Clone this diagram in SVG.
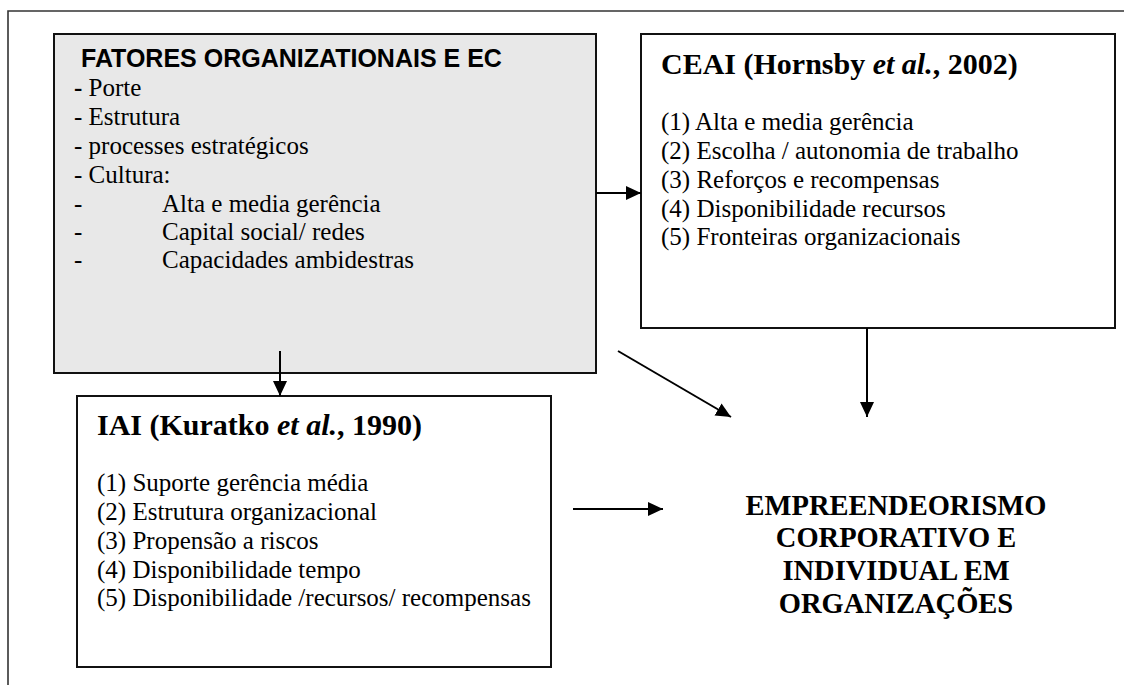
<svg xmlns="http://www.w3.org/2000/svg" width="1124" height="685" viewBox="0 0 1124 685">
  <style>
    .box { fill: #ffffff; stroke: #111111; stroke-width: 2; }
    .shade { fill: #e8e8e8; }
    .frame { fill: none; stroke: #333333; stroke-width: 1.6; }
    .body { font-family: "Liberation Serif", "Times New Roman", serif; font-size: 25px; fill: #000; }
    .head { font-family: "Liberation Serif", "Times New Roman", serif; font-size: 30px; font-weight: bold; fill: #000; }
    .sans-head { font-family: "Liberation Sans", Arial, sans-serif; font-size: 25px; font-weight: bold; fill: #000; }
    .result { font-family: "Liberation Serif", "Times New Roman", serif; font-size: 28.5px; font-weight: bold; fill: #000; text-anchor: middle; }
    .link { fill: none; stroke: #000; stroke-width: 2; marker-end: url(#arrow); }
  </style>
  <defs>
    <marker id="arrow" markerUnits="userSpaceOnUse" markerWidth="16" markerHeight="16" refX="15" refY="7" orient="auto">
      <path d="M0,0 L15,7 L0,14 z" fill="#000"/>
    </marker>
  </defs>

  <rect width="1124" height="685" fill="#ffffff"/>

  <!-- outer frame (top and left edges) -->
  <path class="frame" d="M8,685 L8,11 L1124,11"/>

  <!-- organisational factors -->
  <g id="fatores">
    <rect class="box shade" x="54" y="34" width="542" height="339"/>
    <text class="sans-head" x="81" y="67">FATORES ORGANIZATIONAIS E EC</text>
    <text class="body" x="74" y="96"><tspan font-weight="bold">-</tspan> Porte</text>
    <text class="body" x="74" y="125">- Estrutura</text>
    <text class="body" x="74" y="154">- processes estratégicos</text>
    <text class="body" x="74" y="183">- Cultura:</text>
    <text class="body" x="74" y="212">-</text>
    <text class="body" x="162" y="212">Alta e media gerência</text>
    <text class="body" x="74" y="240">-</text>
    <text class="body" x="162" y="240">Capital social/ redes</text>
    <text class="body" x="74" y="268">-</text>
    <text class="body" x="162" y="268">Capacidades ambidestras</text>
  </g>

  <!-- CEAI instrument -->
  <g id="ceai">
    <rect class="box" x="641" y="34" width="474" height="294"/>
    <text class="head" x="661" y="74">CEAI (Hornsby <tspan font-style="italic">et al.</tspan>, 2002)</text>
    <text class="body" x="661" y="130">(1) Alta e media gerência</text>
    <text class="body" x="661" y="159">(2) Escolha / autonomia de trabalho</text>
    <text class="body" x="661" y="188">(3) Reforços e recompensas</text>
    <text class="body" x="661" y="217">(4) Disponibilidade recursos</text>
    <text class="body" x="661" y="245">(5) Fronteiras organizacionais</text>
  </g>

  <!-- IAI instrument -->
  <g id="iai">
    <rect class="box" x="77" y="396" width="474" height="271"/>
    <text class="head" x="97" y="435">IAI (Kuratko <tspan font-style="italic">et al.</tspan>, 1990)</text>
    <text class="body" x="97" y="491">(1) Suporte gerência média</text>
    <text class="body" x="97" y="520">(2) Estrutura organizacional</text>
    <text class="body" x="97" y="549">(3) Propensão a riscos</text>
    <text class="body" x="97" y="578">(4) Disponibilidade tempo</text>
    <text class="body" x="97" y="606">(5) Disponibilidade /recursos/ recompensas</text>
  </g>

  <!-- outcome -->
  <g id="resultado">
    <text class="result" x="896" y="515">EMPREENDEORISMO</text>
    <text class="result" x="896" y="547">CORPORATIVO E</text>
    <text class="result" x="896" y="580">INDIVIDUAL EM</text>
    <text class="result" x="896" y="613">ORGANIZAÇÕES</text>
  </g>

  <!-- connectors -->
  <g id="connectors">
    <line class="link" x1="596" y1="193" x2="641" y2="193"/>
    <line class="link" x1="280" y1="351" x2="280" y2="396"/>
    <line class="link" x1="618" y1="351" x2="731" y2="417"/>
    <line class="link" x1="867" y1="328" x2="867" y2="417"/>
    <line class="link" x1="573" y1="509" x2="663" y2="509"/>
  </g>
</svg>
